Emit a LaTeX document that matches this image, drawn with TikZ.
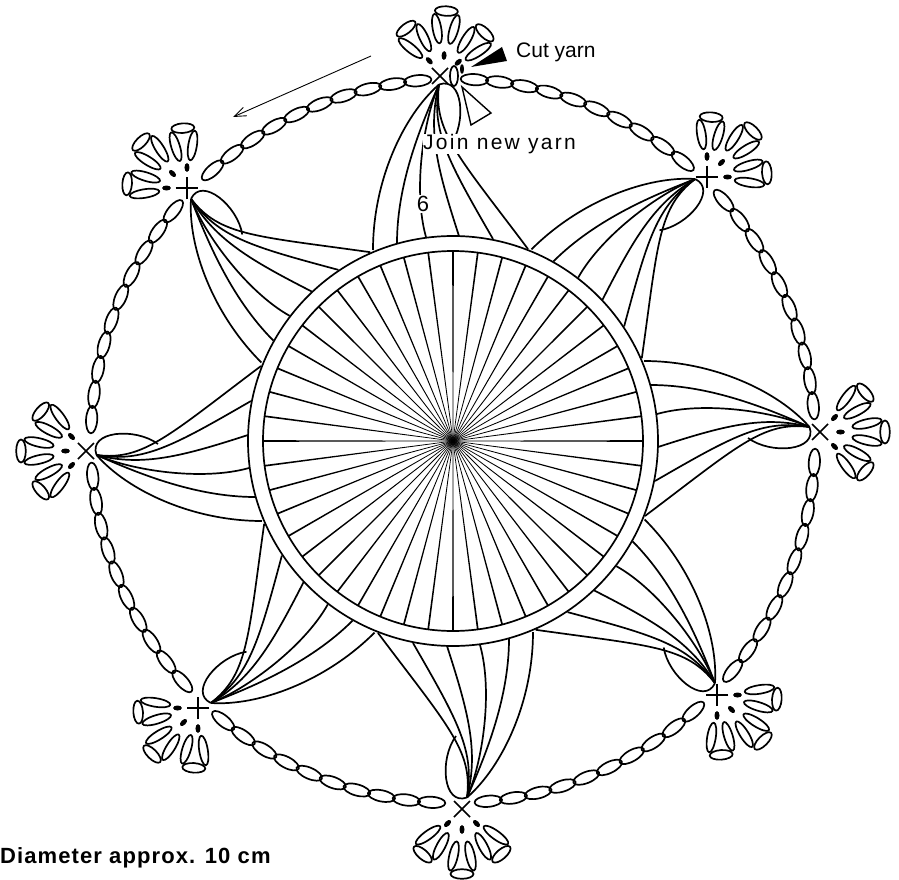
\documentclass[tikz,border=0pt]{standalone}
\usepackage{fontspec}
\setmainfont{Liberation Sans}
\usepackage{tikz}
\usetikzlibrary{arrows.meta}

\newcommand{\crossmark}{%
  \draw[stitch] (-8,-8) -- (8,8);
  \draw[stitch] (-8,8) -- (8,-8);
}
\newcommand{\fanmotif}{%
  \foreach \a/\d in {-41/-5,0/0,41/-5} {
    \begin{scope}[rotate=\a,yshift=\d]
      \draw[stitch,rotate around={13:(-8.5,47)}] (-8.5,47) ellipse (4.3 and 15);
      \draw[stitch,rotate around={-13:(8.5,47)}] (8.5,47) ellipse (4.3 and 15);
      \draw[stitch] (0,65) ellipse (11.5 and 4.8);
    \end{scope}
  }
  \foreach \a in {-45,0,45} {
    \fill[rotate=\a] (0,20.5) ellipse (2.5 and 4.4);
  }
}

\begin{document}
\begin{tikzpicture}[x=1pt,y=1pt,
  stitch/.style={line width=1.7pt,line join=round},
  label/.style={inner sep=0pt,font=\fontsize{21}{21}\selectfont}]
\useasboundingbox (-453,-438) rectangle (446,441);

% Petals, one drawn at the top and turned round the centre
\foreach \k in {0,...,7} {
  \begin{scope}[rotate=45*\k]
    \coordinate (tip) at (-14,356.5);
    \draw[stitch] (tip) .. controls (-50,325) and (-80,260) .. (-80,191);
    \draw[stitch] (tip) .. controls (-30,320) and (-56,260) .. (-56,198);
    \draw[stitch] (tip) .. controls (-30,320) and (-40,250) .. (-27,204);
    \draw[stitch] (tip) .. controls (-26,310) and (-15,270) .. (6,205);
    \draw[stitch] (tip) .. controls (-22,310) and (-5,280) .. (40,202);
    \draw[stitch] (tip) .. controls (-20,310) and (5,285) .. (75,192);
    \draw[stitch] (tip) .. controls (10,365) and (14,318) .. (-3,295);
  \end{scope}
}

% Centre ring and spokes
\draw[stitch,fill=white] (0,0) circle (205);
\draw[stitch] (0,0) circle (190);
\foreach \k in {0,...,47} {
  \fill[rotate=7.5*\k] (0,-0.3) -- (190,-0.85) -- (190,0.85) -- (0,0.3) -- cycle;
}

% Chain stitches round the edge
\foreach \k in {0,...,7} {
  \foreach \j in {0,...,9} {
    \pgfmathsetmacro{\t}{5.6+45*\k+4*\j}
    \draw[stitch,rotate around={\t:(\t:362)}] (\t:362) ellipse (5.6 and 13.8);
  }
}

% Shell motifs
\foreach \x/\y/\r in {-266/253/45,-367/-10/90,-255/-267/135,9/-368/180,
    264/-254/225,367/9/270,254/264/315} {
  \begin{scope}[shift={(\x,\y)},rotate=\r]
    \crossmark
    \fanmotif
  \end{scope}
}

% Top motif with the yarn change
\begin{scope}[shift={(-13,365)}]
  \crossmark
\end{scope}
\begin{scope}[shift={(-10,365)},rotate=-3]
  \fanmotif
\end{scope}
\draw[stitch] (1,365) ellipse (4 and 10);
\fill (9,372) ellipse (2 and 5);
\fill[black] (18,374) -- (49,394) -- (54,380) -- cycle;
\draw[line width=1.4pt] (9,354) -- (38,328) -- (18,316) -- cycle;

% Direction of work
\coordinate (worka) at (-82,385);
\coordinate (workb) at (-220,324);
\draw[line width=0.9pt,-{Straight Barb[length=12pt,width=9pt]}] (worka) -- (workb);

% Labels
\node[label,anchor=west] (cutlabel) at (63,389) {Cut yarn};
\node[label,anchor=west,fill=white] (joinlabel) at (-30,297) {\addfontfeature{LetterSpace=11}Join new yarn};
\node[label,fill=white,inner sep=1pt,font=\fontsize{22}{22}\selectfont] (countlabel) at (-30,237) {6};
\node[inner sep=0pt,anchor=base west,font=\fontsize{22}{22}\selectfont\bfseries] (sizelabel) at (-453,-422) {\addfontfeature{LetterSpace=5}Diameter approx. 10 cm};
\end{tikzpicture}
\end{document}
